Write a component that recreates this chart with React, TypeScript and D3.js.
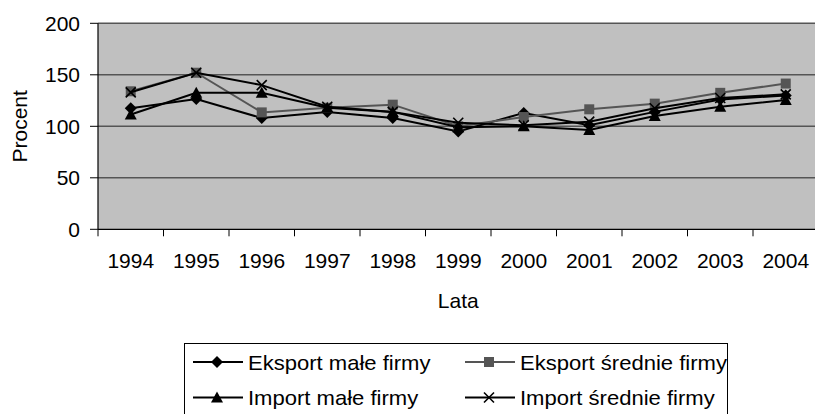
import React, { useEffect, useRef } from "react";
import * as d3 from "d3";

const years = ["1994", "1995", "1996", "1997", "1998", "1999", "2000", "2001", "2002", "2003", "2004"];
const eksportMale = [117.5, 126.5, 108, 114, 108, 95, 113, 101, 114, 126, 130];
const eksportSrednie = [134, 152, 113.5, 118, 121, 100, 109, 116.5, 122, 132.5, 141.5];
const importMale = [111.5, 132.5, 132.5, 118, 114, 99, 100, 96.5, 110, 119, 125.5];
const importSrednie = [133, 152, 140, 119, 114, 103.5, 101, 104.5, 117.5, 127.5, 131];
const yTicks = [0, 50, 100, 150, 200];

const series = [
  { name: "Eksport małe firmy", values: eksportMale, color: "#000", marker: "diamond" },
  { name: "Eksport średnie firmy", values: eksportSrednie, color: "#555", marker: "square" },
  { name: "Import małe firmy", values: importMale, color: "#000", marker: "triangle" },
  { name: "Import średnie firmy", values: importSrednie, color: "#000", marker: "cross" },
];

const FONT = "'Liberation Sans', Arial, sans-serif";

const App: React.FC = () => {
  const ref = useRef<SVGSVGElement | null>(null);

  useEffect(() => {
    const width = 815;
    const height = 414;
    const svg = d3.select(ref.current);
    svg.selectAll("*").remove();
    svg.attr("width", width).attr("height", height);

    const left = 98;
    const step = 65.5;
    const x = d3
      .scaleBand<string>()
      .domain(years)
      .range([left, left + step * years.length]);
    const y = d3.scaleLinear().domain([0, 200]).range([229.3, 23.3]);
    const cx = (d: string) => (x(d) as number) + x.bandwidth() / 2;

    // plot area
    svg
      .append("rect")
      .attr("x", left)
      .attr("y", y(200))
      .attr("width", step * years.length)
      .attr("height", y(0) - y(200))
      .attr("fill", "#c0c0c0");

    // gridlines
    svg
      .selectAll(".grid")
      .data(yTicks.filter((t) => t > 0))
      .enter()
      .append("line")
      .attr("x1", left)
      .attr("x2", left + step * years.length)
      .attr("y1", (d) => y(d))
      .attr("y2", (d) => y(d))
      .attr("stroke", "#555")
      .attr("stroke-width", 1.5);

    // axes
    const axisColor = "#000";
    svg
      .append("line")
      .attr("x1", left)
      .attr("x2", left)
      .attr("y1", y(200))
      .attr("y2", y(0))
      .attr("stroke", axisColor)
      .attr("stroke-width", 1.2);
    svg
      .append("line")
      .attr("x1", left)
      .attr("x2", left + step * years.length)
      .attr("y1", y(0))
      .attr("y2", y(0))
      .attr("stroke", axisColor)
      .attr("stroke-width", 1.2);

    // y ticks + labels
    svg
      .selectAll(".ytick")
      .data(yTicks)
      .enter()
      .append("line")
      .attr("x1", left - 8)
      .attr("x2", left)
      .attr("y1", (d) => y(d))
      .attr("y2", (d) => y(d))
      .attr("stroke", axisColor);
    svg
      .selectAll(".ylab")
      .data(yTicks)
      .enter()
      .append("text")
      .attr("x", 80)
      .attr("y", (d) => y(d) + 7.5)
      .attr("text-anchor", "end")
      .attr("font-family", FONT)
      .attr("font-size", "21px")
      .text((d) => d);

    // x ticks at category boundaries
    svg
      .selectAll(".xtick")
      .data(d3.range(years.length + 1))
      .enter()
      .append("line")
      .attr("x1", (i) => left + i * step)
      .attr("x2", (i) => left + i * step)
      .attr("y1", y(0))
      .attr("y2", y(0) + 7)
      .attr("stroke", axisColor);
    svg
      .selectAll(".xlab")
      .data(years)
      .enter()
      .append("text")
      .attr("x", (d) => cx(d))
      .attr("y", 268)
      .attr("text-anchor", "middle")
      .attr("font-family", FONT)
      .attr("font-size", "21px")
      .text((d) => d);

    // axis titles
    svg
      .append("text")
      .attr("x", left + (step * years.length) / 2)
      .attr("y", 308)
      .attr("text-anchor", "middle")
      .attr("font-family", FONT)
      .attr("font-size", "21px")
      .text("Lata");
    svg
      .append("text")
      .attr("transform", `translate(27, ${y(100)}) rotate(-90)`)
      .attr("text-anchor", "middle")
      .attr("font-family", FONT)
      .attr("font-size", "21px")
      .text("Procent");

    const drawMarker = (
      g: d3.Selection<SVGGElement, unknown, null, undefined>,
      kind: string,
      px: number,
      py: number,
      color: string
    ) => {
      if (kind === "diamond") {
        g.append("path")
          .attr("d", `M${px},${py - 6}L${px + 6},${py}L${px},${py + 6}L${px - 6},${py}Z`)
          .attr("fill", color);
      } else if (kind === "square") {
        g.append("rect")
          .attr("x", px - 5)
          .attr("y", py - 5)
          .attr("width", 10)
          .attr("height", 10)
          .attr("fill", color);
      } else if (kind === "triangle") {
        g.append("path")
          .attr("d", `M${px},${py - 6}L${px + 6},${py + 5}L${px - 6},${py + 5}Z`)
          .attr("fill", color);
      } else {
        g.append("path")
          .attr("d", `M${px - 5},${py - 5}L${px + 5},${py + 5}M${px + 5},${py - 5}L${px - 5},${py + 5}`)
          .attr("stroke", color)
          .attr("stroke-width", 1.6)
          .attr("fill", "none");
      }
    };

    const line = d3
      .line<number>()
      .x((_, i) => cx(years[i]))
      .y((d) => y(d));

    series.forEach((s) => {
      const g = svg.append("g");
      g.append("path")
        .attr("d", line(s.values) as string)
        .attr("fill", "none")
        .attr("stroke", s.color)
        .attr("stroke-width", 2);
      s.values.forEach((v, i) => drawMarker(g, s.marker, cx(years[i]), y(v), s.color));
    });

    // legend
    const lg = svg.append("g");
    lg.append("rect")
      .attr("x", 184.5)
      .attr("y", 343.5)
      .attr("width", 543)
      .attr("height", 80)
      .attr("fill", "#fff")
      .attr("stroke", "#000");
    const cols = [193, 465];
    const rows = [362, 397.5];
    series.forEach((s, i) => {
      const lx = cols[i % 2];
      const ly = rows[Math.floor(i / 2)];
      const g = lg.append("g");
      g.append("line")
        .attr("x1", lx)
        .attr("x2", lx + 50)
        .attr("y1", ly)
        .attr("y2", ly)
        .attr("stroke", s.color)
        .attr("stroke-width", 2);
      drawMarker(g, s.marker, lx + 24, ly, s.color);
      g.append("text")
        .attr("transform", `translate(${lx + 55}, ${ly + 7.5}) scale(1.05, 1)`)
        .attr("font-family", FONT)
        .attr("font-size", "21px")
        .text(s.name);
    });
  }, []);

  return (
    <div style={{ position: "absolute", left: 0, top: 0 }}>
      <svg ref={ref}></svg>
    </div>
  );
};

export default App;
